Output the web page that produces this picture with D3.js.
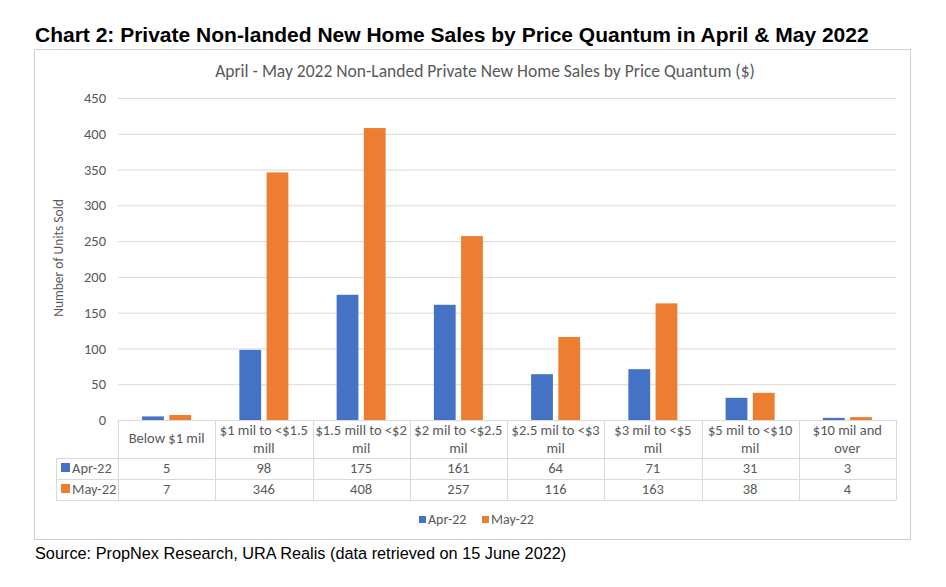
<!DOCTYPE html>
<html><head><meta charset="utf-8">
<script src="https://cdn.jsdelivr.net/npm/d3@7"></script>
<style>body{margin:0;background:#fff;}</style>
</head><body>
<svg id="c" width="946" height="587"></svg>
<script>
const categories = [["Below $1 mil"],["$1 mil to <$1.5","mill"],["$1.5 mill to <$2","mil"],["$2 mil to <$2.5","mil"],["$2.5 mil to <$3","mil"],["$3 mil to <$5","mil"],["$5 mil to <$10","mil"],["$10 mil and","over"]];
const seriesNames = ["Apr-22","May-22"];
const apr = [5,98,175,161,64,71,31,3];
const may = [7,346,408,257,116,163,38,4];
const yTicks = [0,50,100,150,200,250,300,350,400,450];
const colors = ["#4472C4","#ED7D31"];

const svg = d3.select("#c");
const font = "Carlito, Lato, 'Open Sans', sans-serif";
const grey = "#595959";
const lineC = "#d9d9d9";

svg.append("text").attr("x",35).attr("y",42).attr("font-family","'Liberation Sans', Arial, sans-serif")
  .attr("font-weight","bold").attr("font-size",21).attr("fill","#000")
  .text("Chart 2: Private Non-landed New Home Sales by Price Quantum in April & May 2022");

svg.append("rect").attr("x",34.5).attr("y",49.5).attr("width",876).attr("height",490)
  .attr("fill","#fff").attr("stroke","#d0d0d0");

svg.append("text").attr("x",485).attr("y",77).attr("text-anchor","middle").attr("font-family",font)
  .attr("font-size",17.5).attr("fill",grey)
  .text("April - May 2022 Non-Landed Private New Home Sales by Price Quantum ($)");

const left = 118, right = 896;
const y = d3.scaleLinear().domain([0,450]).range([420,98]);
const keys = categories.map((d,i)=>i);
const x = d3.scaleBand().domain(keys).range([left,right]).padding(0);
const xi = d3.scaleBand().domain(seriesNames).range([x.bandwidth()/2-24.5, x.bandwidth()/2+24.5]).paddingInner(0.2);

svg.append("g").selectAll("line").data(yTicks.filter(t=>t>0)).join("line")
  .attr("x1",left).attr("x2",right).attr("y1",d=>y(d)+0.5).attr("y2",d=>y(d)+0.5)
  .attr("stroke",lineC).attr("stroke-width",1);

const yAxis = d3.axisLeft(y).tickValues(yTicks).tickSize(0).tickPadding(0);
const ga = svg.append("g").attr("transform","translate(106,0)").call(yAxis);
ga.select(".domain").remove();
ga.selectAll("text").attr("font-family",font).attr("font-size",14.5).attr("fill",grey);

svg.append("text").attr("transform","translate(63,258) rotate(-90)").attr("text-anchor","middle")
  .attr("font-family",font).attr("font-size",13.5).attr("fill",grey).text("Number of Units Sold");

const data = [apr, may];
data.forEach((vals,si)=>{
  svg.append("g").selectAll("rect").data(vals).join("rect")
    .attr("x",(d,i)=>x(i)+xi(seriesNames[si]))
    .attr("width",xi.bandwidth())
    .attr("y",d=>y(d)).attr("height",d=>y(0)-y(d))
    .attr("fill",colors[si]);
});

const rowY = [420,458,479,500];
const tg = svg.append("g");
tg.append("line").attr("x1",left).attr("x2",right).attr("y1",420.5).attr("y2",420.5).attr("stroke",lineC);
[458,479,500].forEach(yy=>{
  tg.append("line").attr("x1",56).attr("x2",right).attr("y1",yy+0.5).attr("y2",yy+0.5).attr("stroke",lineC);
});
keys.concat([8]).forEach(i=>{
  const xx = i<8 ? x(i) : right;
  tg.append("line").attr("x1",Math.round(xx)+0.5).attr("x2",Math.round(xx)+0.5).attr("y1",420).attr("y2",500).attr("stroke",lineC);
});
tg.append("line").attr("x1",56.5).attr("x2",56.5).attr("y1",458).attr("y2",500).attr("stroke",lineC);

const fs = 14.5;
categories.forEach((lines,i)=>{
  const cx = x(i)+x.bandwidth()/2;
  const t = tg.append("text").attr("text-anchor","middle").attr("font-family",font).attr("font-size",fs).attr("fill",grey);
  if(lines.length===1){
    t.append("tspan").attr("x",cx).attr("y",443).text(lines[0]);
  } else {
    t.append("tspan").attr("x",cx).attr("y",435).text(lines[0]);
    t.append("tspan").attr("x",cx).attr("y",453).text(lines[1]);
  }
});
data.forEach((vals,si)=>{
  const yy = rowY[si+1] + 15;
  tg.append("rect").attr("x",61).attr("y",yy-10).attr("width",9).attr("height",9).attr("fill",colors[si]);
  tg.append("text").attr("x",72).attr("y",yy).attr("font-family",font).attr("font-size",fs).attr("fill",grey).text(seriesNames[si]);
  tg.append("g").selectAll("text").data(vals).join("text")
    .attr("x",(d,i)=>x(i)+x.bandwidth()/2).attr("y",yy).attr("text-anchor","middle")
    .attr("font-family",font).attr("font-size",fs).attr("fill",grey).text(d=>d);
});

const lg = svg.append("g");
const lx = [419, 482];
seriesNames.forEach((s,si)=>{
  lg.append("rect").attr("x",lx[si]).attr("y",516).attr("width",7).attr("height",7).attr("fill",colors[si]);
  lg.append("text").attr("x",lx[si]+9).attr("y",524).attr("font-family",font).attr("font-size",14).attr("fill",grey).text(s);
});

svg.append("text").attr("x",35).attr("y",559).attr("font-family","'Liberation Sans', Arial, sans-serif")
  .attr("font-size",16.3).attr("fill","#000").text("Source: PropNex Research, URA Realis (data retrieved on 15 June 2022)");
</script>
</body></html>
